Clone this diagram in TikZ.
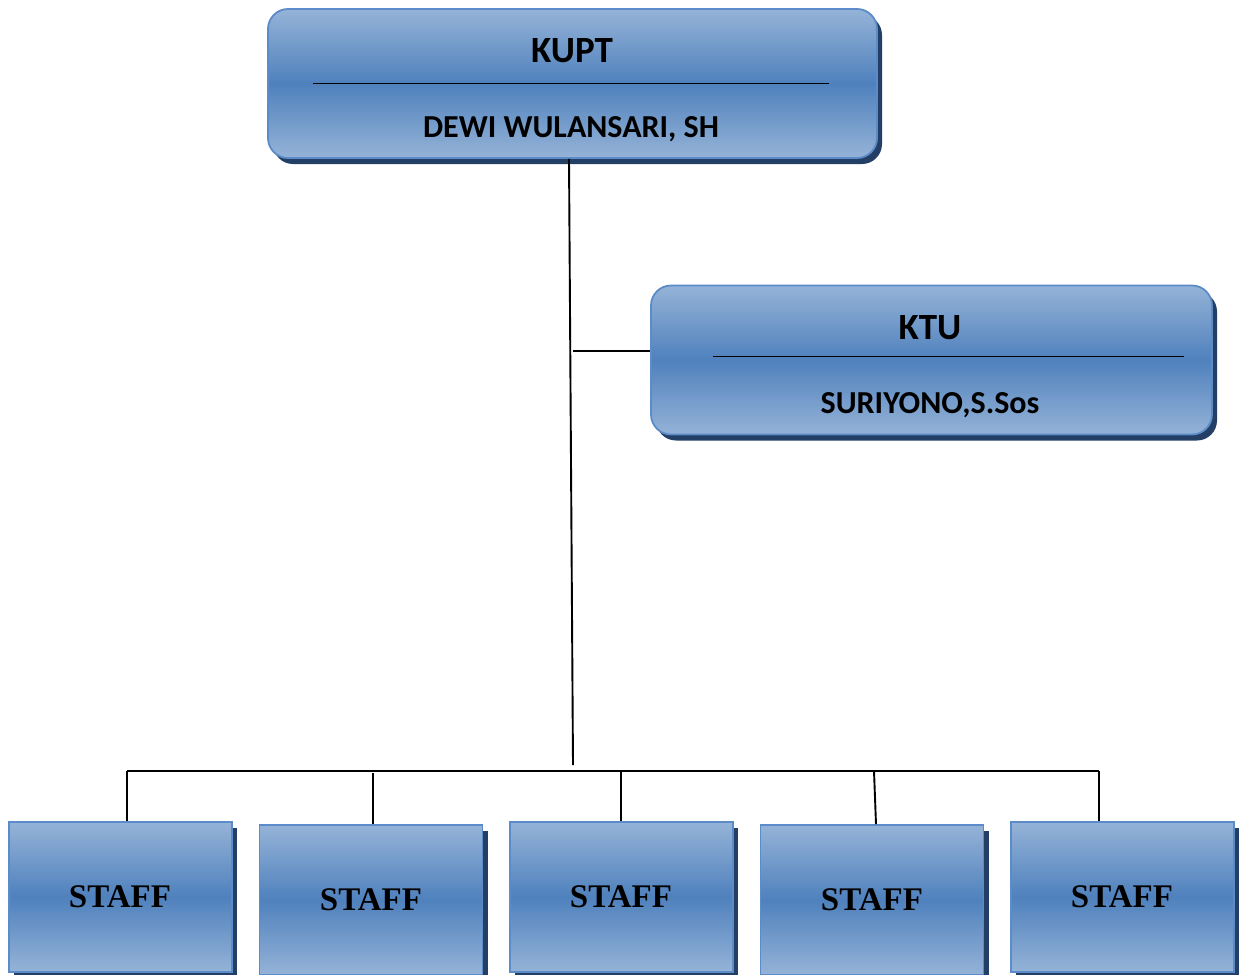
\documentclass[tikz,border=0pt]{standalone}
\usepackage{fontspec}
\newfontfamily\calibfont{Carlito}
\newfontfamily\tnrfont{Liberation Serif}
\usetikzlibrary{shadows}
\definecolor{lightb}{HTML}{95B3D7}
\definecolor{darkb}{HTML}{4F81BD}
\definecolor{edgeb}{HTML}{5B8BC8}
\definecolor{shadowb}{HTML}{243F66}
\tikzset{
  basebox/.style={draw=edgeb, line width=1.8pt, top color=lightb, bottom color=lightb, middle color=darkb,
    inner sep=0pt, drop shadow={shadow xshift=5pt, shadow yshift=-6pt, fill=shadowb, opacity=1}},
  headbox/.style={basebox, rounded corners=20pt, minimum height=149pt},
  staffbox/.style={basebox, minimum width=223pt, minimum height=150pt},
  headtitle/.style={anchor=base, font=\calibfont\bfseries\fontsize{37}{42}\selectfont},
  headname/.style={anchor=base, font=\calibfont\bfseries\fontsize{32}{38}\selectfont},
  stafftext/.style={anchor=base, font=\tnrfont\bfseries\fontsize{33}{39}\selectfont},
  conn/.style={line width=1.9pt, black},
  rule/.style={line width=1.9pt, black}
}
\begin{document}
\begin{tikzpicture}[x=1pt,y=-1pt]
\useasboundingbox (0,0) rectangle (1243,975);
\fill[white] (0,0) rectangle (1243,975);

% head boxes
\node[headbox, minimum width=609pt] (kupt) at (572.5,83.5) {};
\node[headtitle] (kupttitle) at (572,62) {KUPT};
\node[headname] (kuptname) at (571,137) {DEWI WULANSARI, SH};
\coordinate (kl) at (313,83.5);
\coordinate (kr) at (829,83.5);
\draw[rule] (kl) -- (kr);

\node[headbox, minimum width=561pt] (ktu) at (931.5,360) {};
\node[headtitle] (ktutitle) at (930,339) {KTU};
\node[headname] (ktuname) at (930,413) {SURIYONO,S.Sos};
\coordinate (tl) at (713,356.5);
\coordinate (tr) at (1184,356.5);
\draw[rule] (tl) -- (tr);

% staff boxes
\node[staffbox] (s1) at (120.5,897) {};
\node[staffbox] (s2) at (371,900) {};
\node[staffbox] (s3) at (621.5,897) {};
\node[staffbox] (s4) at (872,900) {};
\node[staffbox] (s5) at (1122.5,897) {};
\node[stafftext] (t1) at (120,907) {STAFF};
\node[stafftext] (t2) at (371,910) {STAFF};
\node[stafftext] (t3) at (621,907) {STAFF};
\node[stafftext] (t4) at (872,910) {STAFF};
\node[stafftext] (t5) at (1122,907) {STAFF};

% connectors
\coordinate (vend) at (573,765);
\draw[conn] ([xshift=-3.5pt]kupt.south) -- (vend);
\coordinate (br) at (573,351);
\draw[conn] (br) -- (br -| ktu.west);
\coordinate (bl) at (127,771);
\coordinate (brr) at (1099,771);
\draw[conn] (bl) -- (brr);
\coordinate (d1) at (127,771);
\coordinate (d2) at (373,773);
\coordinate (d3) at (621,771);
\coordinate (d4) at (874,771);
\coordinate (d5) at (1099,771);
\draw[conn] (d1) -- (d1 |- s1.north);
\draw[conn] (d2) -- (d2 |- s2.north);
\draw[conn] (d3) -- (d3 |- s3.north);
\draw[conn] (d4) -- ([xshift=2pt]d4 |- s4.north);
\draw[conn] (d5) -- (d5 |- s5.north);
\end{tikzpicture}
\end{document}
